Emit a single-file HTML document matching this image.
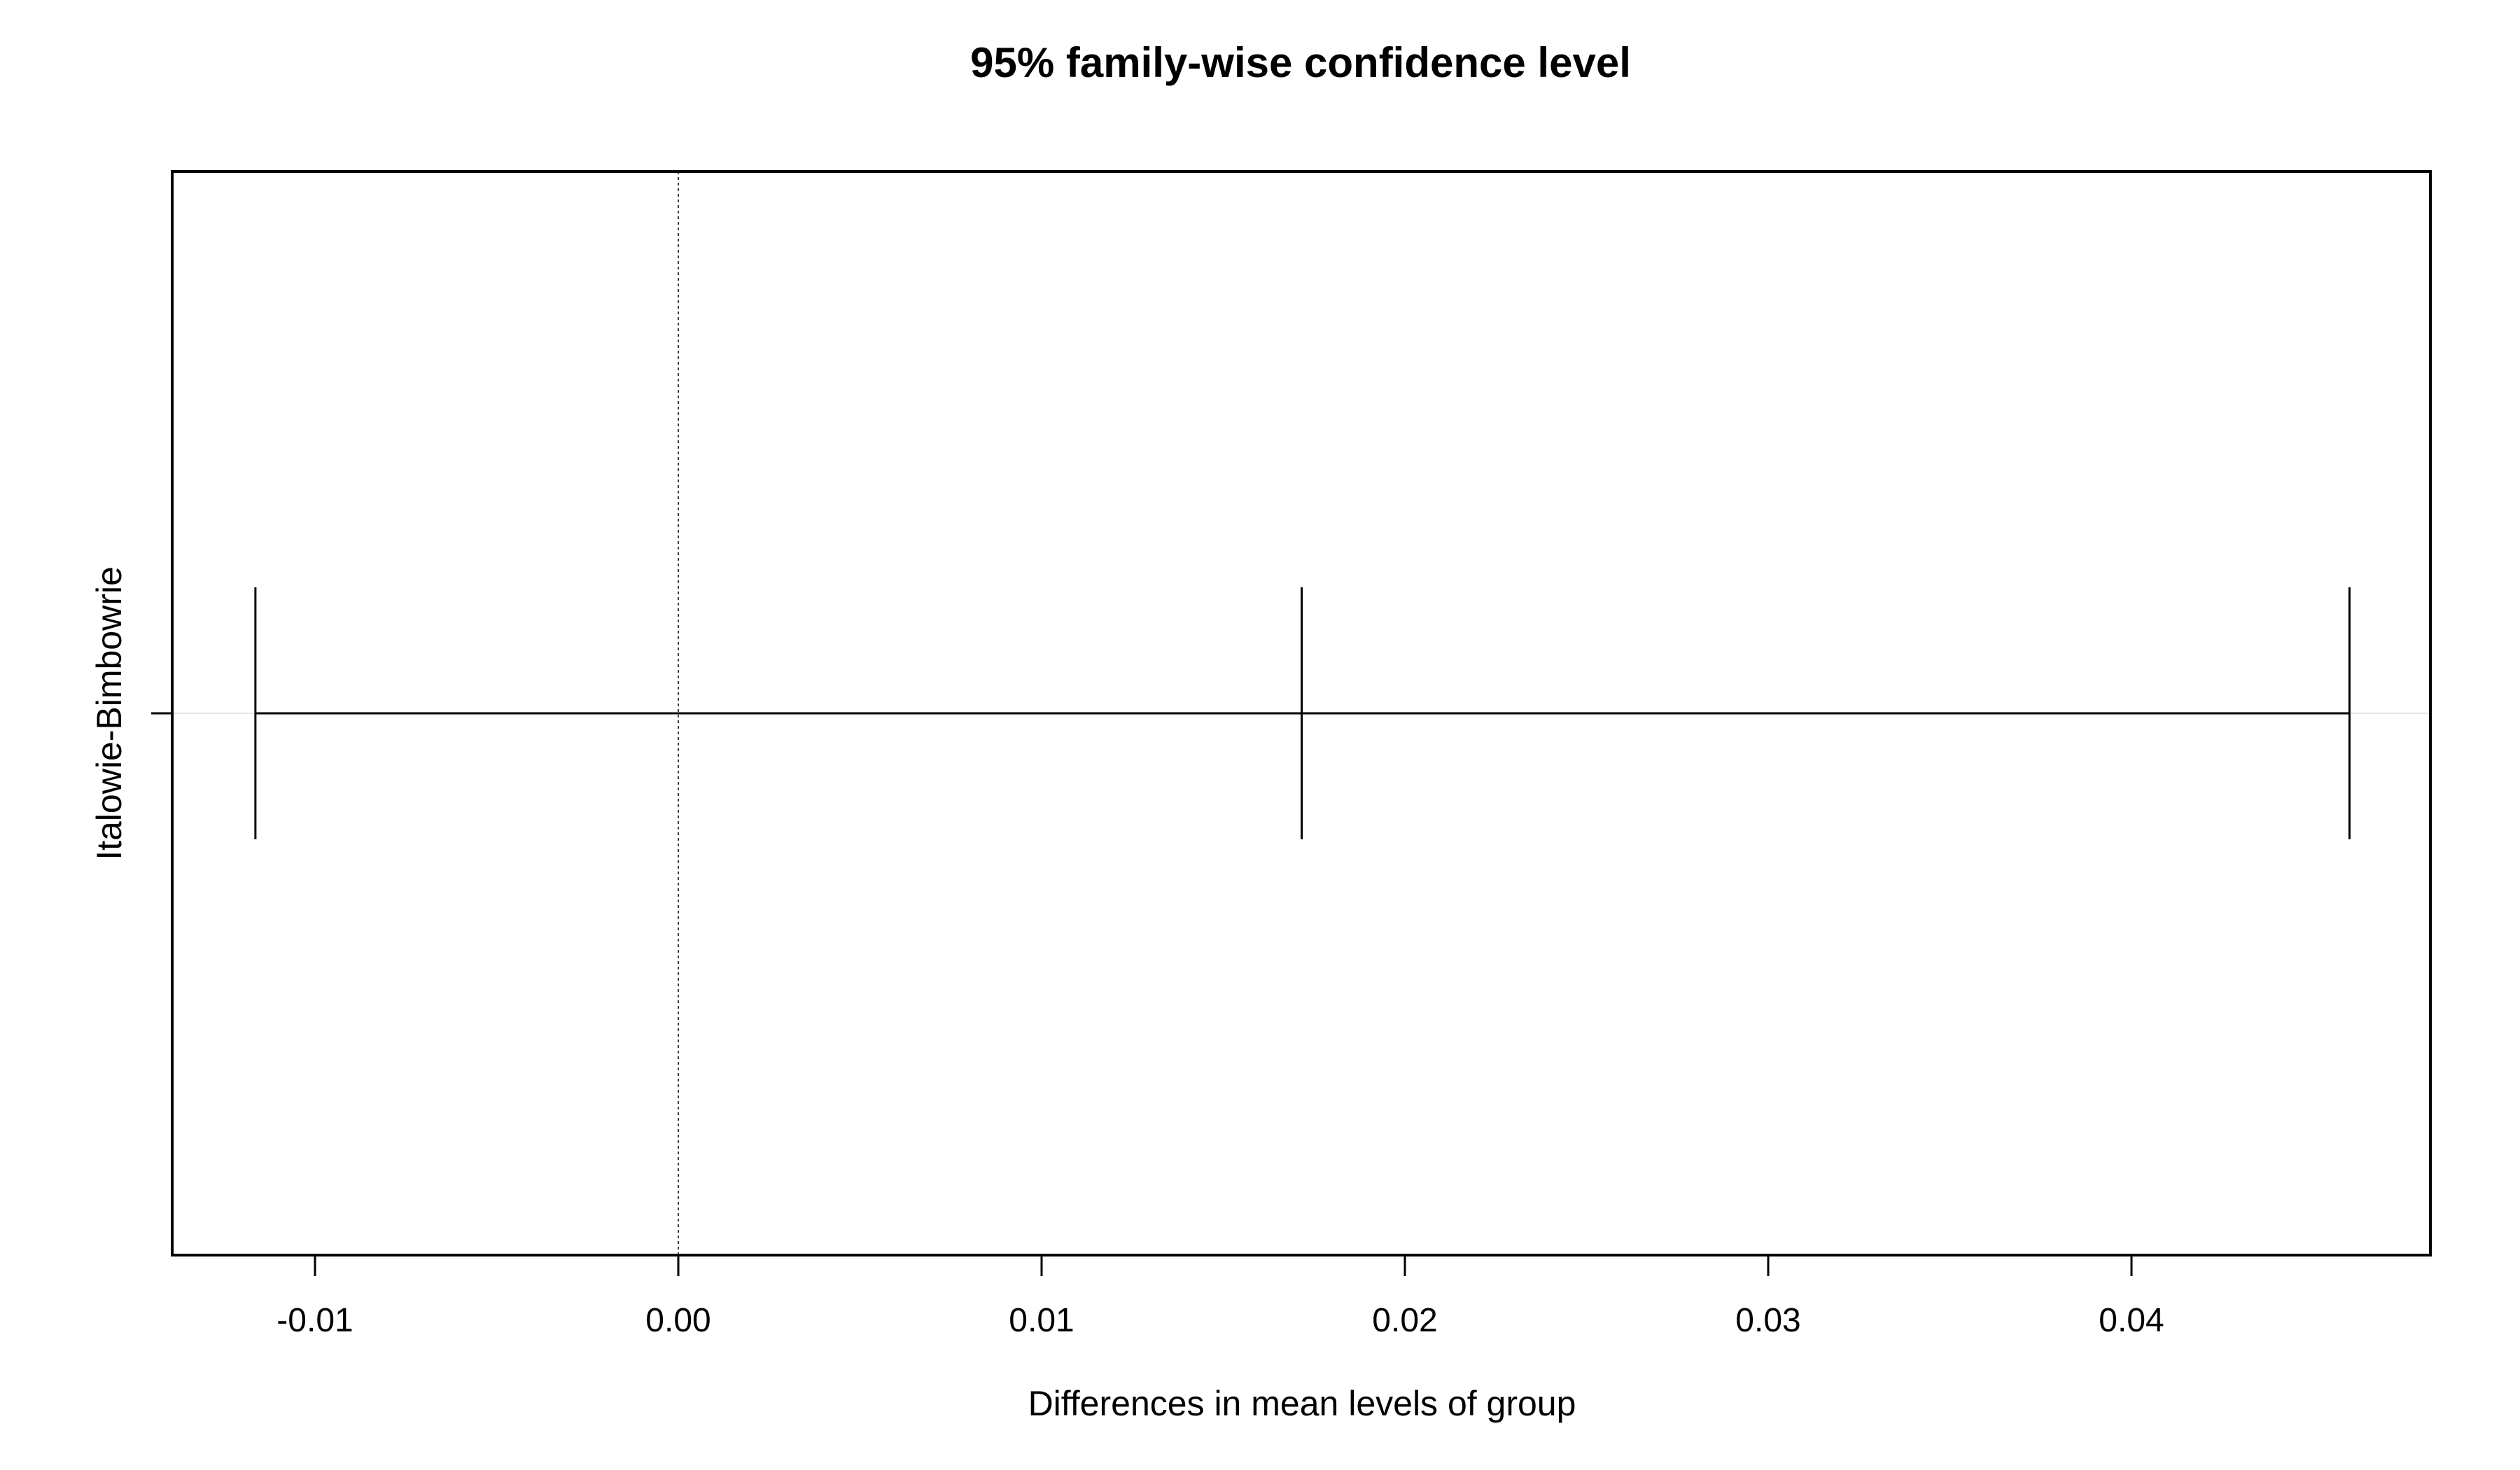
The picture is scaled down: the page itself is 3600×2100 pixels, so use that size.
<!DOCTYPE html>
<html><head><meta charset="utf-8"><style>
html,body{margin:0;padding:0;background:#fff;}
svg{display:block;font-family:"Liberation Sans",Arial,sans-serif;}
</style></head><body>
<svg id="chart" width="3600" height="2100" viewBox="0 0 3600 2100">
<text x="1858" y="110" text-anchor="middle" font-size="60" font-weight="bold">95% family-wise confidence level</text>
<rect x="246" y="245" width="3226" height="1548" fill="none" stroke="#000" stroke-width="4"/>
<g id="xaxis"></g>
<g id="yaxis"></g>
<g id="marks"></g>
<text x="1860" y="2022" text-anchor="middle" font-size="50">Differences in mean levels of group</text>
</svg>
<script>
const comparisons = ["Italowie-Bimbowrie"];
const diffValues = [0.01716];
const lwrValues = [-0.01164];
const uprValues = [0.0460];
const xTicks = [-0.01, 0, 0.01, 0.02, 0.03, 0.04];
const xTickLabels = ["-0.01", "0.00", "0.01", "0.02", "0.03", "0.04"];

const NS = "http://www.w3.org/2000/svg";
function X(v){ return 969 + v * 51900; }
const plotTop = 245, plotBottom = 1793;
function Y(i){ const n = comparisons.length; return plotTop + (plotBottom - plotTop) * (i + 0.5) / n; }
function mk(tag, attrs, parent){ const e = document.createElementNS(NS, tag); for (const k in attrs) e.setAttribute(k, attrs[k]); parent.appendChild(e); return e; }

const xa = document.getElementById('xaxis');
xTicks.forEach((t, i) => {
  const tk = mk('line', {x1: X(t), x2: X(t), y1: plotBottom, y2: plotBottom + 30, stroke: '#000', 'stroke-width': 3}, xa);
  
  
  const lb = mk('text', {x: X(t), y: 1902, 'text-anchor': 'middle', 'font-size': 48}, xa);
  lb.textContent = xTickLabels[i];
  
  
});

const mg = document.getElementById('marks');
const zl = mk('line', {x1: X(0), x2: X(0), y1: plotTop, y2: plotBottom, stroke: '#000', 'stroke-width': 1.5, 'stroke-dasharray': '4,4'}, mg);



const ya = document.getElementById('yaxis');
comparisons.forEach((c, i) => {
  const y = Y(i);
  const gl = mk('line', {x1: 248, x2: 3470, y1: y, y2: y, stroke: '#e6e6e6', 'stroke-width': 2}, mg);
  
  
  const tk = mk('line', {x1: 216, x2: 246, y1: y, y2: y, stroke: '#000', 'stroke-width': 3}, ya);
  
  
  const lb = mk('text', {x: 0, y: 0, 'text-anchor': 'middle', 'font-size': 50, transform: `translate(173,${y}) rotate(-90)`}, ya);
  lb.textContent = c;
  
  
  const h = mk('line', {x1: X(lwrValues[i]), x2: X(uprValues[i]), y1: y, y2: y, stroke: '#000', 'stroke-width': 3}, mg);
  
  
  [['lower-bound-tick', lwrValues[i]], ['diff-tick', diffValues[i]], ['upper-bound-tick', uprValues[i]]].forEach(([nm, v]) => {
    const l = mk('line', {x1: X(v), x2: X(v), y1: y - 180, y2: y + 180, stroke: '#000', 'stroke-width': 3}, mg);
    
    
  });
});
</script>
</body></html>
